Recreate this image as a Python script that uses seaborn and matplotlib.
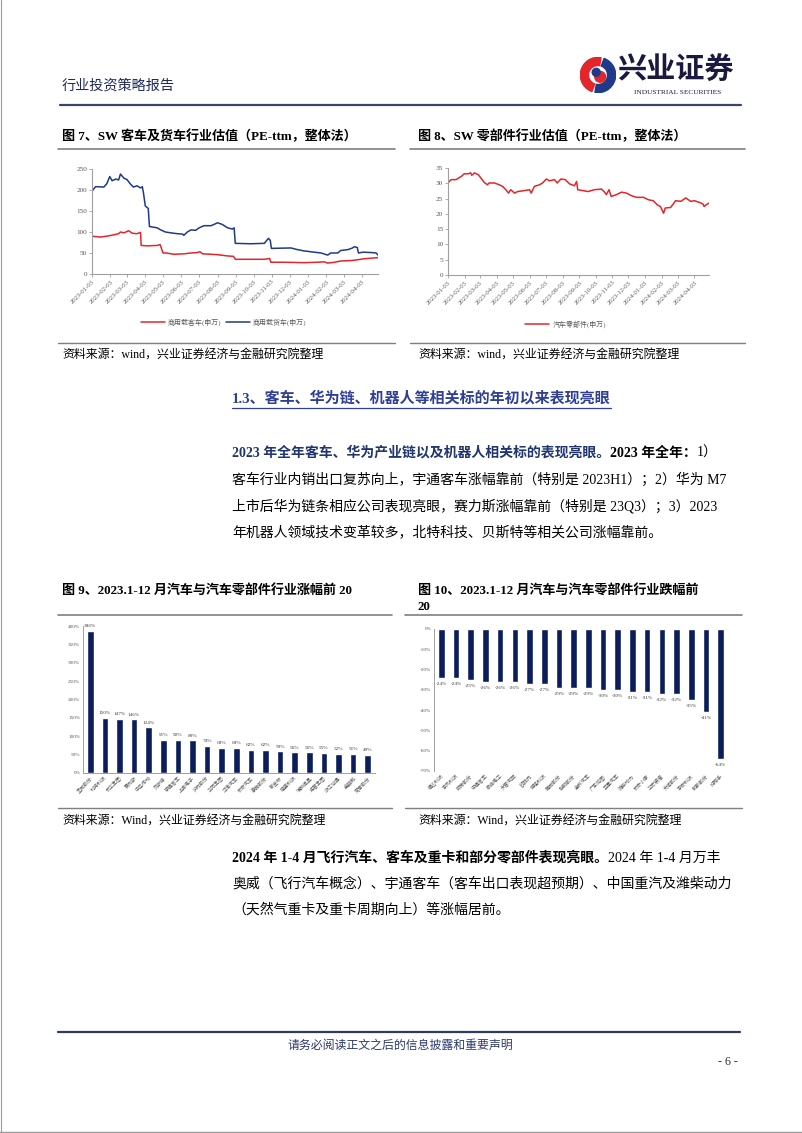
import matplotlib
matplotlib.use('Agg')
import matplotlib.pyplot as plt
import matplotlib.patches as mpatches
from matplotlib.lines import Line2D
import seaborn as sns
import pandas as pd

# ---------------- data ----------------
tick_labels = ['2023-01-03', '2023-02-03', '2023-03-03', '2023-04-03', '2023-05-03', '2023-06-03',
               '2023-07-03', '2023-08-03', '2023-09-03', '2023-10-03', '2023-11-03', '2023-12-03',
               '2024-01-03', '2024-02-03', '2024-03-03', '2024-04-03']

bus_dates = ['2023-01-03', '2023-01-17', '2023-01-28', '2023-02-08', '2023-02-17', '2023-02-20', '2023-02-26',
             '2023-03-06', '2023-03-12', '2023-03-20', '2023-03-26', '2023-03-27', '2023-04-06', '2023-04-23',
             '2023-04-28', '2023-05-03', '2023-05-09', '2023-05-21', '2023-06-07', '2023-06-19', '2023-06-30',
             '2023-07-04', '2023-07-09', '2023-07-23', '2023-08-03', '2023-08-20', '2023-08-30', '2023-09-02',
             '2023-09-28', '2023-10-21', '2023-10-30', '2023-11-01', '2023-11-24', '2023-12-27', '2024-01-19',
             '2024-01-30', '2024-02-05', '2024-02-17', '2024-02-27', '2024-03-16', '2024-03-27', '2024-04-05',
             '2024-04-13', '2024-04-30']
bus_vals = [90, 88, 90, 93, 96, 100, 98, 103, 97, 96, 99, 68, 67, 68, 70, 50, 50, 47, 48, 50, 51, 53, 48, 47,
            46, 43, 42, 35, 35, 35, 37, 28, 28, 27, 28, 29, 26, 28, 31, 32, 34, 36, 37, 39]

truck_dates = ['2023-01-03', '2023-01-09', '2023-01-23', '2023-01-28', '2023-02-02', '2023-02-06', '2023-02-12',
               '2023-02-17', '2023-02-20', '2023-02-26', '2023-03-03', '2023-03-09', '2023-03-14', '2023-03-20',
               '2023-03-26', '2023-03-29', '2023-03-31', '2023-04-03', '2023-04-08', '2023-04-10', '2023-04-23',
               '2023-04-29', '2023-05-07', '2023-05-16', '2023-05-27', '2023-06-05', '2023-06-07', '2023-06-13',
               '2023-06-19', '2023-06-27', '2023-07-03', '2023-07-11', '2023-07-23', '2023-07-28', '2023-08-03',
               '2023-08-11', '2023-08-20', '2023-08-28', '2023-08-31', '2023-09-02', '2023-09-28', '2023-10-21',
               '2023-10-28', '2023-10-31', '2023-11-02', '2023-12-05', '2023-12-16', '2023-12-27', '2024-01-13',
               '2024-01-25', '2024-02-05', '2024-02-10', '2024-02-22', '2024-02-27', '2024-03-10', '2024-03-18',
               '2024-03-21', '2024-03-26', '2024-03-28', '2024-04-05', '2024-04-19', '2024-04-27', '2024-04-30']
truck_vals = [197, 208, 207, 215, 232, 222, 226, 224, 238, 228, 225, 214, 207, 210, 205, 208, 192, 162, 156,
              113, 110, 105, 100, 98, 96, 95, 92, 100, 105, 104, 110, 115, 115, 118, 122, 118, 110, 107, 110,
              73, 72, 73, 85, 80, 61, 62, 58, 55, 52, 50, 45, 50, 50, 56, 58, 62, 65, 63, 50, 52, 51, 50, 45]

parts_dates = ['2023-01-03', '2023-01-05', '2023-01-09', '2023-01-18', '2023-01-28', '2023-02-02', '2023-02-09',
               '2023-02-14', '2023-02-16', '2023-02-21', '2023-02-28', '2023-03-05', '2023-03-11', '2023-03-17',
               '2023-03-20', '2023-03-30', '2023-04-08', '2023-04-14', '2023-04-20', '2023-04-25', '2023-04-29',
               '2023-05-06', '2023-05-12', '2023-05-24', '2023-06-03', '2023-06-06', '2023-06-12', '2023-06-21',
               '2023-06-27', '2023-07-04', '2023-07-10', '2023-07-19', '2023-07-24', '2023-07-31', '2023-08-08',
               '2023-08-16', '2023-08-25', '2023-08-29', '2023-08-31', '2023-09-10', '2023-09-19', '2023-10-01',
               '2023-10-14', '2023-10-20', '2023-10-23', '2023-10-28', '2023-11-01', '2023-11-11', '2023-11-20',
               '2023-11-29', '2023-12-09', '2023-12-18', '2023-12-31', '2024-01-09', '2024-01-18', '2024-01-25',
               '2024-01-31', '2024-02-06', '2024-02-09', '2024-02-19', '2024-02-25', '2024-02-28', '2024-03-09',
               '2024-03-18', '2024-03-27', '2024-04-03', '2024-04-13', '2024-04-19', '2024-04-21', '2024-04-25',
               '2024-04-30']
parts_vals = [29.8, 30.6, 31.2, 31.2, 32.3, 33.1, 33.1, 33.4, 32.6, 33.4, 32.8, 31.7, 30.3, 29.5, 30.1, 30.1,
              29.5, 29.0, 27.9, 26.8, 27.9, 26.8, 27.3, 27.6, 27.9, 26.8, 29.0, 29.5, 30.1, 31.4, 30.8, 31.2,
              30.1, 31.4, 31.2, 29.8, 29.2, 30.6, 27.9, 27.6, 27.3, 27.9, 28.1, 27.1, 26.3, 27.9, 25.7, 26.3,
              27.1, 26.8, 25.9, 25.4, 25.4, 24.6, 24.3, 23.0, 22.4, 20.2, 21.9, 22.1, 23.5, 24.3, 24.1, 25.2,
              24.1, 24.3, 23.7, 23.2, 22.4, 23.0, 23.5]

gain_names = ['圣龙股份', '北特科技', '长华集团', '赛力斯', '中马传动', '贝斯特', '宇通客车', '上声电子',
              '沪光股份', '华阳集团', '江淮汽车', '长安汽车', '豪能股份', '新坐标', '隆盛科技', '瑞鹄模具',
              '拓普集团', '浙江仙通', '金麒麟', '常青股份']
gain_vals = [386, 150, 147, 146, 124, 91, 90, 89, 74, 68, 68, 62, 62, 59, 56, 56, 55, 52, 51, 49]

loss_names = ['福达科技', '东风科技', '威帝股份', '中通客车', '泉峰电工', '天普汽配', '欧菲光', '保隆科技',
              '腾龙股份', '联明股份', '金杯汽车', '广东鸿图', '亚星汽车', '潍柴动力', '长安小康', '华宏装备',
              '天润股份', '东安科技', '明新股份', '好帮手']
loss_vals = [-24, -24, -25, -26, -26, -26, -27, -27, -29, -29, -29, -30, -30, -31, -31, -32, -32, -35, -41, -64]

# ---------------- style ----------------
sns.set_theme(style='white')
FAM = ['Liberation Serif', 'Noto Sans CJK SC']
plt.rcParams['font.family'] = FAM
plt.rcParams['axes.unicode_minus'] = False

RED = '#E3262B'
BLUE = '#1F3A8A'
NAVY = '#0B1E5B'
GRAY = '#7F7F7F'
TICKC = '#595959'

W, H = 802, 1133
fig = plt.figure(figsize=(W / 100, H / 100), dpi=100)
fig.patch.set_facecolor('white')
renderer = fig.canvas.get_renderer()


def fx(x):
    return x / W


def fy(y):
    return 1 - y / H


def hline(x0, x1, y, color, lw):
    fig.add_artist(Line2D([fx(x0), fx(x1)], [fy(y), fy(y)], color=color, lw=lw,
                          transform=fig.transFigure))


def text(x, y, s, size, bold=False, color='black', ha='left', family=FAM):
    return fig.text(fx(x), fy(y), s, fontsize=size, fontweight='bold' if bold else 'normal',
                    color=color, ha=ha, va='center', family=family)


def seg_line(x, y, segs, size):
    cx = x
    for s, bold, color in segs:
        t = text(cx, y, s, size, bold, color)
        cx += t.get_window_extent(renderer).width


# ---------------- page header ----------------
text(62, 86, '行业投资策略报告', 10.2, color='#1F2B5B')
hline(60, 741, 105, '#3A4566', 1.6)

lax = fig.add_axes([fx(580), fy(93), 36 / W, 36 / H])
lax.set_xlim(-1, 1)
lax.set_ylim(-1, 1)
lax.set_aspect('equal')
lax.axis('off')
lax.add_patch(mpatches.Wedge((0, 0), 0.98, 80, 250, width=0.45, color='#E3262B'))
lax.add_patch(mpatches.Wedge((0, 0), 0.98, 260, 430, width=0.45, color='#1F3A8A'))
lax.add_patch(mpatches.Circle((0.12, -0.1), 0.3, color='#E3262B'))
lax.add_patch(mpatches.Circle((-0.1, 0.15), 0.22, color='#1F3A8A'))
text(617, 71, '兴业证券', 21, bold=True, color='#1A1A40')
text(678, 92, 'INDUSTRIAL SECURITIES', 5.3, color='#1A1A40', ha='center')

# ---------------- figure 7 / 8 titles ----------------
text(62, 136, '图 7、SW 客车及货车行业估值（PE-ttm，整体法）', 9.4, bold=True)
text(418, 136, '图 8、SW 零部件行业估值（PE-ttm，整体法）', 9.4, bold=True)
hline(58, 395, 149, GRAY, 1.2)
hline(410, 745, 149, GRAY, 1.2)
hline(58, 395, 343, GRAY, 1.0)
hline(410, 745, 343, GRAY, 1.0)
text(62, 356, '资料来源：wind，兴业证券经济与金融研究院整理', 8.6)
text(418, 356, '资料来源：wind，兴业证券经济与金融研究院整理', 8.6)

ticks = pd.to_datetime(tick_labels)


def style_line_ax(ax, ymax, ystep, xend):
    ax.set_xlim(pd.Timestamp('2023-01-03'), pd.Timestamp(xend))
    ax.set_ylim(0, ymax)
    ax.set_yticks(list(range(0, ymax + 1, ystep)))
    ax.set_yticklabels([str(v) for v in range(0, ymax + 1, ystep)], fontsize=5.2, color=TICKC)
    ax.set_xticks(ticks)
    ax.set_xticklabels(tick_labels, rotation=45, ha='right', rotation_mode='anchor', fontsize=4.8, color=TICKC)
    for s in ['top', 'right']:
        ax.spines[s].set_visible(False)
    for s in ['left', 'bottom']:
        ax.spines[s].set_color('#A0A0A0')
        ax.spines[s].set_linewidth(0.8)
    ax.tick_params(bottom=True, left=True, length=2, width=0.6, color='#A0A0A0', pad=1.5)
    ax.set_xlabel('')
    ax.set_ylabel('')
    ax.set_facecolor('white')


ax7 = fig.add_axes([fx(92), fy(274), (378 - 92) / W, (274 - 169) / H])
sns.lineplot(x=pd.to_datetime(bus_dates), y=bus_vals, ax=ax7, color=RED, lw=1.1, label='商用载客车(申万)')
sns.lineplot(x=pd.to_datetime(truck_dates), y=truck_vals, ax=ax7, color=BLUE, lw=1.1, label='商用载货车(申万)')
style_line_ax(ax7, 250, 50, '2024-04-30')
ax7.legend(loc='center', bbox_to_anchor=(0.46, -0.46), ncol=2, frameon=False, fontsize=5,
           handlelength=3.5, columnspacing=0.6, handletextpad=0.4)
for t in ax7.get_legend().get_texts():
    t.set_color(TICKC)

ax8 = fig.add_axes([fx(448), fy(275), (709 - 448) / W, (275 - 168) / H])
sns.lineplot(x=pd.to_datetime(parts_dates), y=parts_vals, ax=ax8, color=RED, lw=1.1, label='汽车零部件(申万)')
style_line_ax(ax8, 35, 5, '2024-04-30')
ax8.legend(loc='center', bbox_to_anchor=(0.45, -0.46), ncol=1, frameon=False, fontsize=5,
           handlelength=3.5, handletextpad=0.4)
for t in ax8.get_legend().get_texts():
    t.set_color(TICKC)

# ---------------- section 1.3 ----------------
HEAD = '#2E3F95'
h = text(232, 398, '1.3、客车、华为链、机器人等相关标的年初以来表现亮眼', 10.8, bold=True, color=HEAD)
hb = h.get_window_extent(renderer)
hline(232, 232 + hb.width, 408, HEAD, 0.9)

BODY = 10.0
PARA_BLUE = '#1F3470'
seg_line(232, 453, [('2023 年全年客车、华为产业链以及机器人相关标的表现亮眼。', True, PARA_BLUE),
                    ('2023 年全年：', True, 'black'), ('1）', False, 'black')], BODY)
seg_line(232, 480, [('客车行业内销出口复苏向上，宇通客车涨幅靠前（特别是 2023H1）；2）华为 M7', False, 'black')], BODY)
seg_line(232, 506, [('上市后华为链条相应公司表现亮眼，赛力斯涨幅靠前（特别是 23Q3）；3）2023', False, 'black')], BODY)
seg_line(232, 532, [('年机器人领域技术变革较多，北特科技、贝斯特等相关公司涨幅靠前。', False, 'black')], BODY)

# ---------------- figure 9 / 10 ----------------
text(62, 590, '图 9、2023.1-12 月汽车与汽车零部件行业涨幅前 20', 9.4, bold=True)
text(418, 590, '图 10、2023.1-12 月汽车与汽车零部件行业跌幅前', 9.4, bold=True)
text(418, 607, '20', 9.4, bold=True)
hline(58, 392, 615, GRAY, 1.2)
hline(405, 742, 615, GRAY, 1.2)
hline(58, 392, 808, GRAY, 1.0)
hline(405, 742, 808, GRAY, 1.0)
text(62, 822, '资料来源：Wind，兴业证券经济与金融研究院整理', 8.6)
text(418, 822, '资料来源：Wind，兴业证券经济与金融研究院整理', 8.6)

ax9 = fig.add_axes([fx(83), fy(773), (375 - 83) / W, (773 - 626) / H])
df9 = pd.DataFrame({'name': gain_names, 'pct': gain_vals})
sns.barplot(data=df9, x='name', y='pct', ax=ax9, color=NAVY, width=0.45, saturation=1)
ax9.set_ylim(0, 400)
ax9.set_yticks(list(range(0, 401, 50)))
ax9.set_yticklabels([f'{v}%' for v in range(0, 401, 50)], fontsize=3.8, color=TICKC)
ax9.bar_label(ax9.containers[0], labels=[f'{v}%' for v in gain_vals], fontsize=3.8, padding=2, color='#404040')
ax9.set_xticks(range(len(gain_names)))
ax9.set_xticklabels(gain_names, rotation=45, ha='right', rotation_mode='anchor', fontsize=3.6, color=TICKC)
for s in ['top', 'right']:
    ax9.spines[s].set_visible(False)
for s in ['left', 'bottom']:
    ax9.spines[s].set_color('#A0A0A0')
    ax9.spines[s].set_linewidth(0.7)
ax9.tick_params(length=0, pad=2)
ax9.set_xlabel('')
ax9.set_ylabel('')

ax10 = fig.add_axes([fx(434), fy(771), (728 - 434) / W, (771 - 629) / H])
df10 = pd.DataFrame({'name': loss_names, 'pct': loss_vals})
sns.barplot(data=df10, x='name', y='pct', ax=ax10, color=NAVY, width=0.45, saturation=1)
ax10.set_ylim(-70, 0)
ax10.set_yticks(list(range(-70, 1, 10)))
ax10.set_yticklabels([f'{v}%' for v in range(-70, 1, 10)], fontsize=3.8, color=TICKC)
ax10.bar_label(ax10.containers[0], labels=[f'{v}%' for v in loss_vals], fontsize=3.8, padding=3, color='#404040')
ax10.set_xticks(range(len(loss_names)))
ax10.set_xticklabels(loss_names, rotation=45, ha='right', rotation_mode='anchor', fontsize=3.6, color=TICKC)
for s in ['top', 'right', 'bottom']:
    ax10.spines[s].set_visible(False)
ax10.spines['left'].set_color('#A0A0A0')
ax10.spines['left'].set_linewidth(0.7)
ax10.tick_params(length=0, pad=2)
ax10.set_xlabel('')
ax10.set_ylabel('')

# ---------------- paragraph 2 ----------------
seg_line(232, 858, [('2024 年 1-4 月飞行汽车、客车及重卡和部分零部件表现亮眼。', True, 'black'),
                    ('2024 年 1-4 月万丰', False, 'black')], BODY)
seg_line(232, 884, [('奥威（飞行汽车概念）、宇通客车（客车出口表现超预期）、中国重汽及潍柴动力', False, 'black')], BODY)
seg_line(232, 910, [('（天然气重卡及重卡周期向上）等涨幅居前。', False, 'black')], BODY)

# ---------------- footer ----------------
hline(58, 740, 1032, '#2B3A67', 1.6)
text(400, 1046, '请务必阅读正文之后的信息披露和重要声明', 8.6, color='#2B3A6B', ha='center')
text(738, 1062, '- 6 -', 8.6, color='#333333', ha='right')

# page border remnants
fig.add_artist(Line2D([0.0008, 0.0008], [0, 1], color='#9A9A9A', lw=0.8, transform=fig.transFigure))
hline(0, 802, 1132, '#9A9A9A', 1.0)

fig.savefig('out.png', dpi=100, facecolor='white')
